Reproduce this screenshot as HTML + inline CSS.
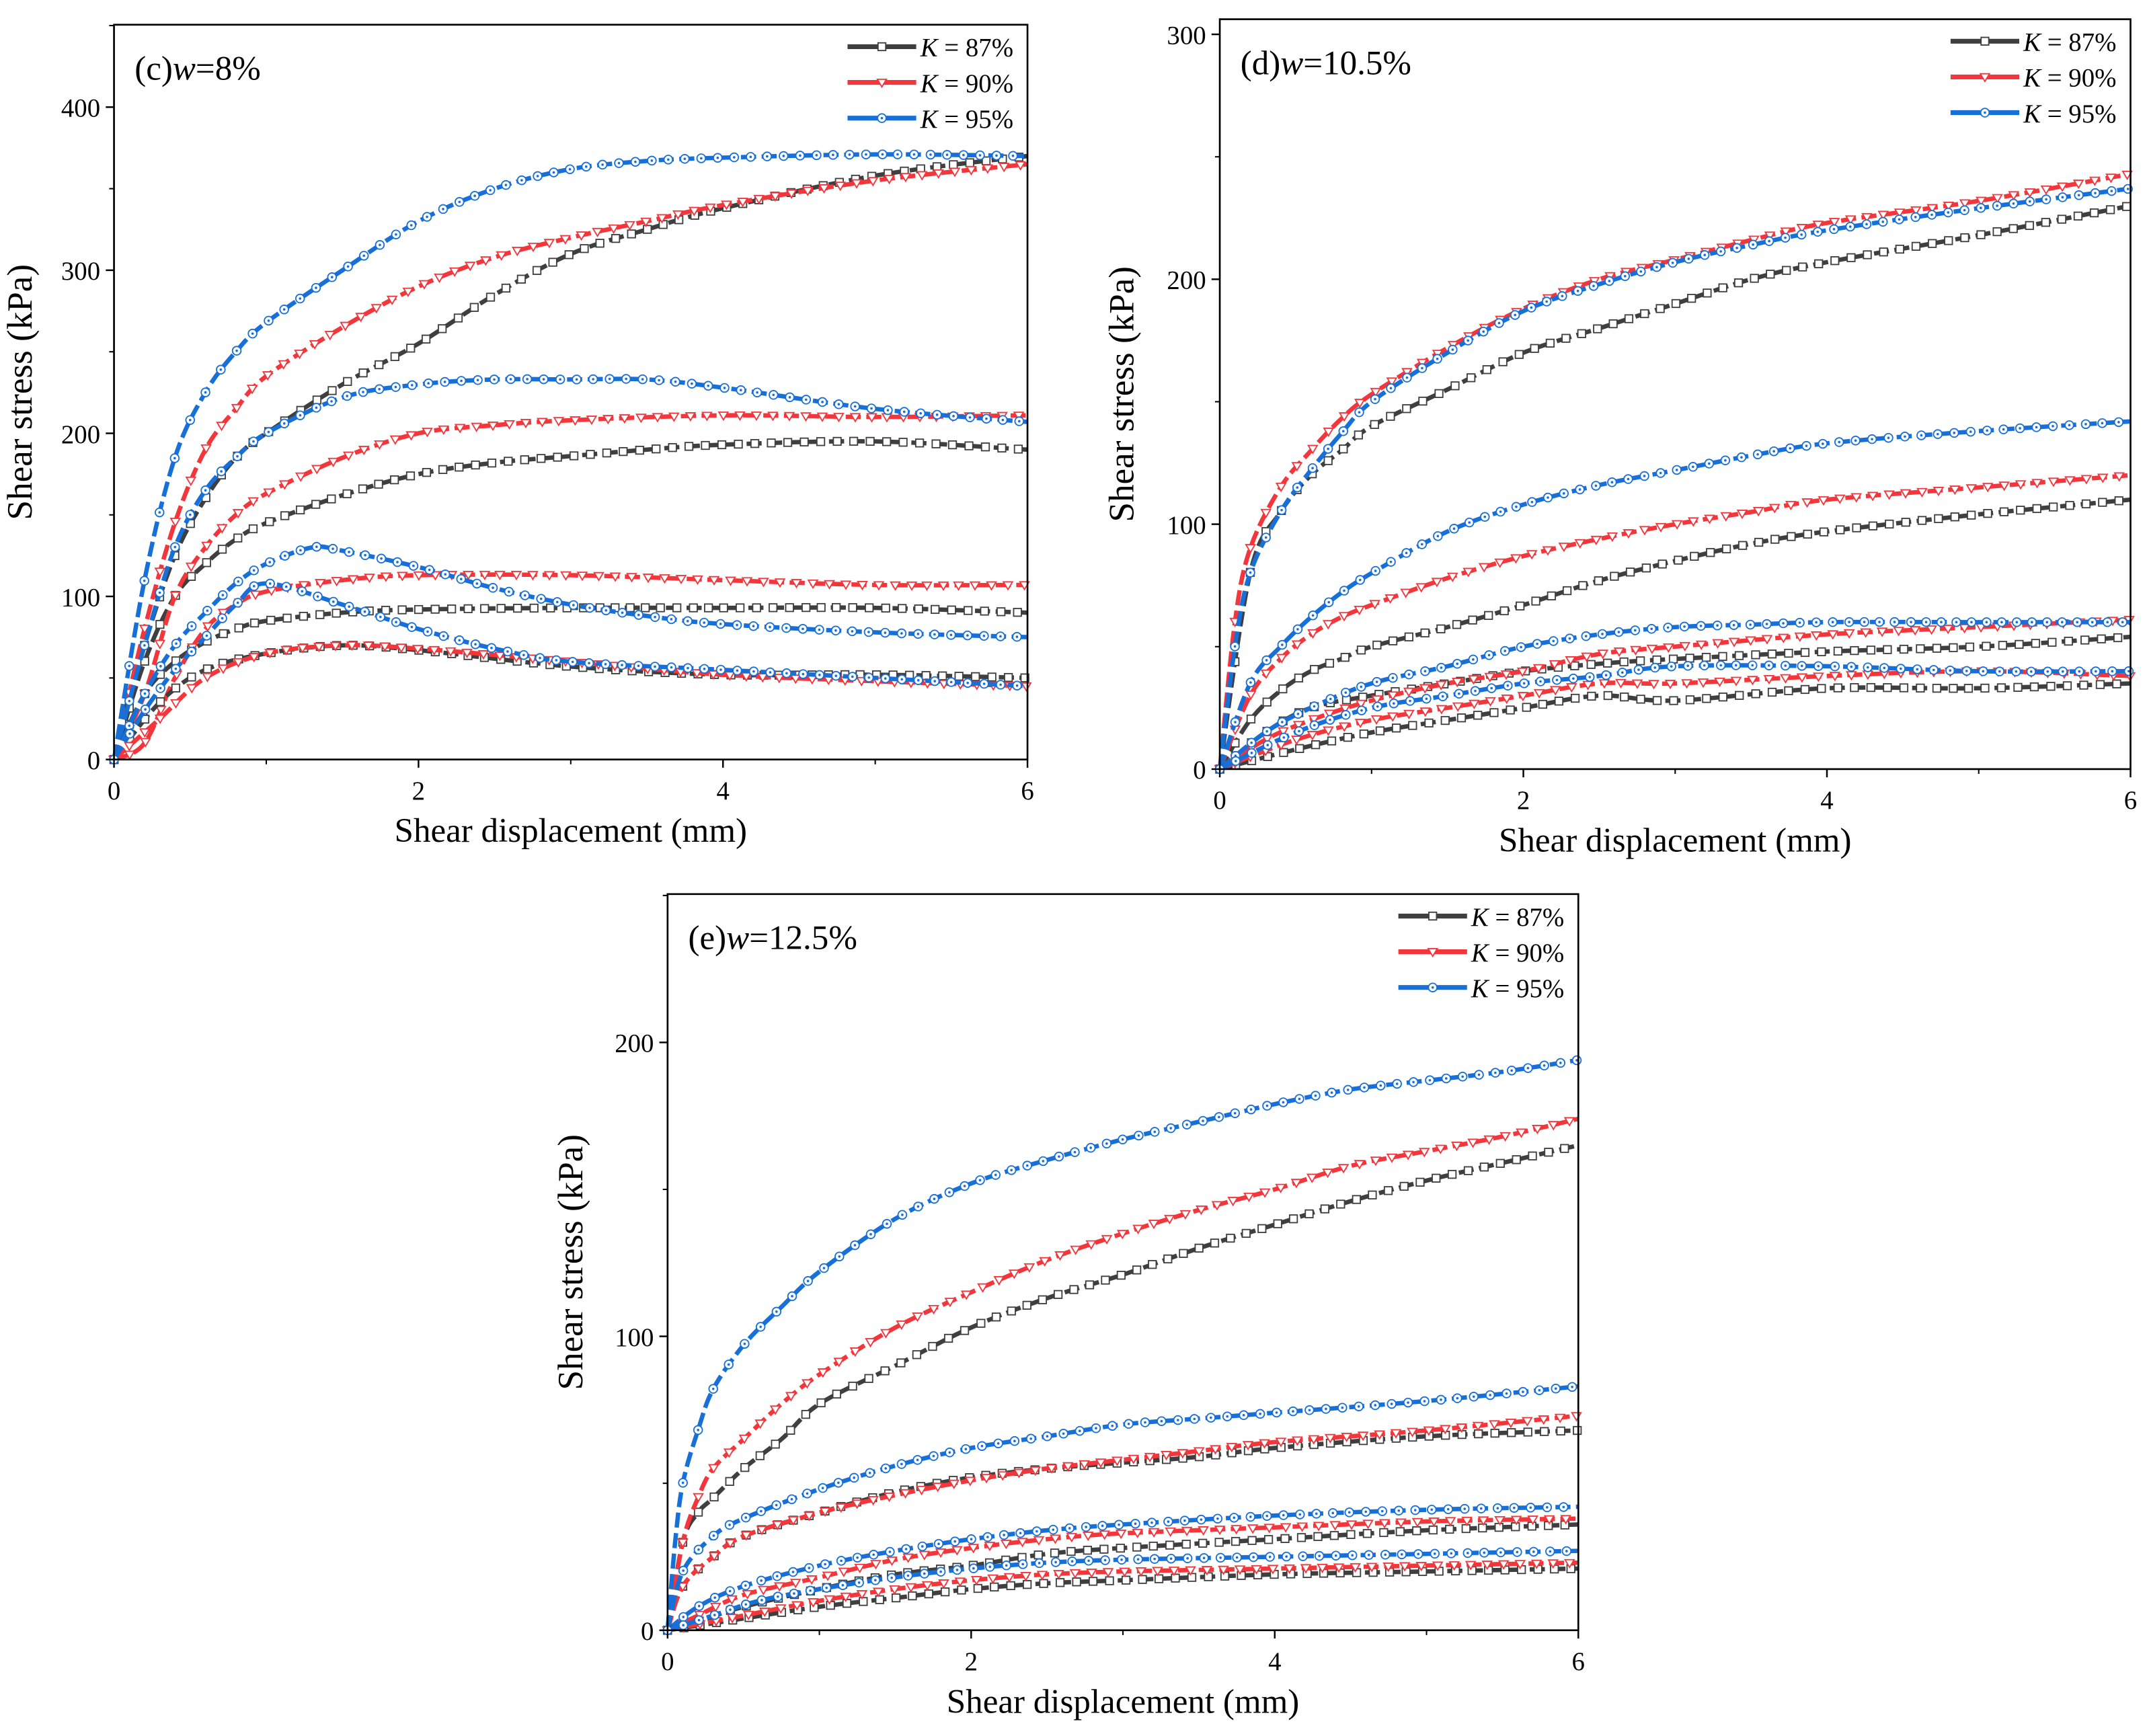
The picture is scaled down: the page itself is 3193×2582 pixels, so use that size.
<!DOCTYPE html>
<html><head><meta charset="utf-8"><style>
html,body{margin:0;padding:0;background:#fff}
svg{display:block}
text{font-family:"Liberation Serif",serif;fill:#000}
</style></head><body>
<svg id="s" width="3193" height="2582" viewBox="0 0 1563 1264" preserveAspectRatio="none"></svg>
<script>
// ---- data: [x-values, y-values] per curve ----
const cBlue1X=[0,0.2,0.4,0.6,0.8,1,1.5,2,2.5,3,3.5,4,5,6], cBlue1Y=[0,110,185,225,250,268,300,330,350,362,367,369,371,370];
const cRed1X=[0,0.2,0.4,0.6,0.8,1,1.5,2,2.5,3,3.5,4,5,6], cRed1Y=[0,80,145,190,215,235,265,290,308,320,330,340,355,365];
const cBlk1X=[0,0.2,0.4,0.6,0.8,1,1.5,2,2.5,3,3.5,4,5,6], cBlk1Y=[0,70,125,160,185,200,230,255,285,310,325,338,358,370];
const cBlue2X=[0,0.2,0.4,0.6,0.8,1,1.5,2,2.5,3,3.5,4,5,6], cBlue2Y=[0,70,130,165,185,200,222,230,233,233,233,228,215,207];
const cRed2X=[0,0.2,0.4,0.6,0.8,1,1.5,2,2.5,3,4,5,6], cRed2Y=[0,40,100,130,150,163,185,200,205,208,211,210,211];
const cBlk2X=[0,0.2,0.4,0.6,0.8,1,1.5,2,2.5,3,3.5,4,5,6], cBlk2Y=[0,60,100,120,135,145,162,175,182,186,190,193,195,190];
const cBlue3X=[0,0.2,0.4,0.6,0.8,1,1.3,1.5,2,2.5,3,3.5,4,5,6], cBlue3Y=[0,40,70,90,108,120,130,128,118,105,95,88,83,78,75];
const cRed3X=[0,0.2,0.4,0.6,0.8,1,1.5,2,3,4,5,6], cRed3Y=[0,10,50,80,95,103,110,113,113,110,107,107];
const cBlk3X=[0,0.2,0.4,0.6,0.8,1,1.5,2,3,4,5,6], cBlk3Y=[0,40,60,72,80,85,90,92,93,93,93,90];
const cBlue4X=[0,0.2,0.4,0.6,0.8,1,1.5,2,2.5,3,4,5,6], cBlue4Y=[0,30,55,75,95,108,95,80,68,60,55,50,45];
const cRed4X=[0,0.3,0.6,1,1.5,2,3,4,5,6], cRed4Y=[0,25,50,65,70,68,60,52,48,45];
const cBlk4X=[0,0.3,0.6,1,1.5,2,3,4,5,6], cBlk4Y=[0,35,55,65,70,67,57,52,52,50];

const dRed1X=[0,0.1,0.2,0.4,0.6,0.8,1,1.5,2,2.5,3,3.5,4,5,6], dRed1Y=[0,60,90,115,130,143,153,172,188,200,208,216,223,232,243];
const dBlue1X=[0,0.1,0.2,0.4,0.6,0.8,1,1.5,2,2.5,3,3.5,4,5,6], dBlue1Y=[0,50,80,105,122,137,150,170,187,198,207,214,220,229,237];
const dBlk1X=[0,0.2,0.4,0.6,0.8,1,1.5,2,2.5,3,3.5,4,5,6], dBlk1Y=[0,80,105,120,130,140,155,170,180,190,200,207,218,230];
const dBlue2X=[0,0.2,0.4,0.6,0.8,1,1.5,2,2.5,3,3.5,4,5,6], dBlue2Y=[0,35,50,62,72,80,97,108,116,122,128,133,138,142];
const dRed2X=[0,0.2,0.4,0.6,0.8,1,1.5,2,2.5,3,3.5,4,5,6], dRed2Y=[0,30,45,55,62,67,78,87,94,100,105,110,115,120];
const dBlk2X=[0,0.2,0.4,0.6,0.8,1,1.5,2,2.5,3,3.5,4,5,6], dBlk2Y=[0,20,32,40,45,50,58,67,77,85,92,97,104,110];
const dBlue3X=[0,0.3,0.6,1,1.5,2,2.5,3,3.5,4,5,6], dBlue3Y=[0,15,25,35,42,50,55,58,59,60,60,60];
const dRed3X=[0,0.3,0.6,1,1.5,2,2.5,3,4,5,6], dRed3Y=[0,12,20,28,35,40,47,50,55,58,61];
const dBlk3X=[0,0.3,0.6,1,1.5,2,2.5,3,4,5,6], dBlk3Y=[0,15,25,30,35,40,43,45,48,50,54];
const dBlue4X=[0,0.5,1,1.5,2,2.5,3,4,5,6], dBlue4Y=[0,15,25,30,35,38,42,42,40,40];
const dRed4X=[0,0.5,1,1.5,2,2.5,3,4,5,6], dRed4Y=[0,12,20,25,30,35,35,38,40,38];
const dBlk4X=[0,0.5,1,1.5,2,2.5,3,4,5,6], dBlk4Y=[0,8,15,20,25,30,28,33,33,35];

const eBlue1X=[0,0.05,0.1,0.2,0.3,0.5,0.75,1,1.5,2,2.5,3,3.5,4,4.5,5,5.5,6], eBlue1Y=[0,30,50,68,82,97,110,122,140,152,160,167,173,179,184,187,190,194];
const eRed1X=[0,0.1,0.2,0.3,0.5,0.75,1,1.5,2,2.5,3,3.5,4,4.5,5,5.5,6], eRed1Y=[0,30,45,55,65,77,87,103,115,126,135,143,150,158,163,168,174];
const eBlk1X=[0,0.1,0.2,0.3,0.5,0.75,1,1.5,2,2.5,3,3.5,4,4.5,5,5.5,6], eBlk1Y=[0,30,40,45,55,65,77,90,103,113,121,130,138,146,153,159,165];
const eBlue2X=[0,0.1,0.3,0.5,1,1.5,2,2.5,3,3.5,4,5,6], eBlue2Y=[0,20,32,38,48,56,62,66,70,72,74,78,83];
const eRed2X=[0,0.1,0.3,0.5,1,1.5,2,2.5,3,3.5,4,5,6], eRed2Y=[0,15,25,32,40,46,51,55,58,61,64,68,73];
const eBlk2X=[0,0.1,0.3,0.5,1,1.5,2,2.5,3,3.5,4,5,6], eBlk2Y=[0,15,25,32,40,47,52,55,57,59,62,66,68];
const eBlue3X=[0,0.2,0.5,1,1.5,2,2.5,3,4,5,6], eBlue3Y=[0,8,15,22,27,31,34,36,39,41,42];
const eRed3X=[0,0.2,0.5,1,1.5,2,2.5,3,4,5,6], eRed3Y=[0,5,12,18,24,28,31,33,35,37,38];
const eBlk3X=[0,0.2,0.5,1,1.5,2,2.5,3,4,5,6], eBlk3Y=[0,3,8,14,19,22,26,28,31,34,36];
const eBlue4X=[0,0.3,0.6,1,1.5,2,2.5,3,4,5,6], eBlue4Y=[0,5,10,14,18,21,23,24,25,26,27];
const eRed4X=[0,0.5,1,1.5,2,2.5,3,4,5,6], eRed4Y=[0,5,10,14,17,19,20,21,22,23];
const eBlk4X=[0,0.5,1,1.5,2,2.5,3,4,5,6], eBlk4Y=[0,4,8,11,14,16,17,19,20,21];

const xTicks=[0,2,4,6];
const cYTicks=[0,100,200,300,400], dYTicks=[0,100,200,300], eYTicks=[0,100,200];
const legendLabels=["K = 87%","K = 90%","K = 95%"];

const NS="http://www.w3.org/2000/svg";
const svg=document.getElementById('s');
const COL={k:"#3f3f3f",r:"#f2363b",b:"#176fd8"};
function mk(tag,attrs,parent){const e=document.createElementNS(NS,tag);for(const k in attrs)e.setAttribute(k,attrs[k]);(parent||svg).appendChild(e);return e;}
function marker(g,kind,x,y){
  const c=COL[kind];let m;
  if(kind==='k'){m=mk('rect',{x:x-2.8,y:y-2.8,width:5.6,height:5.6,fill:'#fff',stroke:c,'stroke-width':0.9},g);}
  else if(kind==='r'){m=mk('path',{d:`M${x-3.3},${y-2.3}L${x+3.3},${y-2.3}L${x},${y+3.3}Z`,fill:'#fff',stroke:c,'stroke-width':0.9},g);}
  else {m=mk('circle',{cx:x,cy:y,r:3.1,fill:'#fff',stroke:c,'stroke-width':0.9},g);mk('circle',{cx:x,cy:y,r:0.9,fill:c},g);}
  
  
}
function smoothPath(P){
  let d='M'+P[0][0].toFixed(1)+','+P[0][1].toFixed(1);
  for(let i=0;i<P.length-1;i++){
    const p0=P[Math.max(0,i-1)],p1=P[i],p2=P[i+1],p3=P[Math.min(P.length-1,i+2)];
    const c1=[p1[0]+(p2[0]-p0[0])/6,p1[1]+(p2[1]-p0[1])/6];
    const c2=[p2[0]-(p3[0]-p1[0])/6,p2[1]-(p3[1]-p1[1])/6];
    d+=`C${c1[0].toFixed(1)},${c1[1].toFixed(1)} ${c2[0].toFixed(1)},${c2[1].toFixed(1)} ${p2[0].toFixed(1)},${p2[1].toFixed(1)}`;
  }
  return d;
}
function panel(p){
  const g=mk('g',{});
  
  
  const sx=v=>p.x0+(v/6)*(p.x1-p.x0);
  const sy=v=>p.y0-(v/p.ymax)*(p.y0-p.yTop);
  p.series.forEach(s=>{
    const X=s[1],Y=s[2],k=s[0];
    const P=X.map((x,i)=>[sx(x),sy(Y[i])]);
    const l=mk('path',{d:smoothPath(P),fill:'none',stroke:COL[k],'stroke-width':3.2,'stroke-dasharray':'11,4','stroke-linejoin':'round'},g);
    
    
    // markers at regular steps of x along the curve (~0.1 mm)
    const L=l.getTotalLength();
    let lastX=-1e9;
    for(let t=0;t<=L;t+=1){
      const pt=l.getPointAtLength(t);
      const dist=Math.abs(pt.x-lastX);
      if(lastX<-1e8||pt.x-lastX>=11){marker(g,k,pt.x,pt.y);lastX=pt.x;}
    }
  });
  const f=mk('rect',{x:p.x0,y:p.yBox,width:p.x1-p.x0,height:p.y0-p.yBox,fill:'none',stroke:'#000','stroke-width':1.3},g);
  
  
  xTicks.forEach(t=>{
    mk('line',{x1:sx(t),x2:sx(t),y1:p.y0,y2:p.y0+6,stroke:'#000','stroke-width':1.2},g);
    const tx=mk('text',{x:sx(t),y:p.y0+29,'text-anchor':'middle','font-size':19},g);tx.textContent=t;
    
    
  });
  for(let t=1;t<6;t+=2){mk('line',{x1:sx(t),x2:sx(t),y1:p.y0,y2:p.y0+3.5,stroke:'#000','stroke-width':1},g);}
  p.yt.forEach(t=>{
    mk('line',{x1:p.x0-6,x2:p.x0,y1:sy(t),y2:sy(t),stroke:'#000','stroke-width':1.2},g);
    const tx=mk('text',{x:p.x0-10,y:sy(t)+7,'text-anchor':'end','font-size':19},g);tx.textContent=t;
    
    
    if(sy(t+50)>p.yBox) mk('line',{x1:p.x0-3.5,x2:p.x0,y1:sy(t+50),y2:sy(t+50),stroke:'#000','stroke-width':1},g);
  });
  const xt=mk('text',{x:(p.x0+p.x1)/2,y:p.y0+60,'text-anchor':'middle','font-size':25},g);xt.textContent='Shear displacement (mm)';
  
  
  const yc=(p.yBox+p.y0)/2;
  const yt=mk('text',{x:p.x0-p.ytOff,y:yc,'text-anchor':'middle','font-size':26,transform:`rotate(-90 ${p.x0-p.ytOff} ${yc})`},g);yt.textContent='Shear stress (kPa)';
  
  
  const ti=mk('text',{x:p.x0+15,y:p.yBox+40,'font-size':25},g);
  ti.innerHTML=p.title[0]+'<tspan font-style="italic">w</tspan>'+p.title[1];
  
  
  ['k','r','b'].forEach((k,i)=>{
    const ly=p.yBox+16+i*26, lx=p.x1-131;
    const lg=mk('g',{},g);
    
    
    mk('line',{x1:lx,x2:lx+50,y1:ly,y2:ly,stroke:COL[k],'stroke-width':3.5},lg);
    marker(lg,k,lx+25,ly);
    const t=mk('text',{x:lx+53,y:ly+7,'font-size':19},lg);
    t.innerHTML='<tspan font-style="italic">K</tspan>'+legendLabels[i].slice(1);
  });
}
panel({name:'panel-c',x0:83,x1:748,y0:553,yTop:78,ymax:400,yBox:18,yt:cYTicks,ytOff:60,title:['(c)','=8%'],
 series:[['k',cBlk1X,cBlk1Y],['r',cRed1X,cRed1Y],['b',cBlue1X,cBlue1Y],['k',cBlk2X,cBlk2Y],['r',cRed2X,cRed2Y],['b',cBlue2X,cBlue2Y],['k',cBlk3X,cBlk3Y],['r',cRed3X,cRed3Y],['b',cBlue3X,cBlue3Y],['k',cBlk4X,cBlk4Y],['r',cRed4X,cRed4Y],['b',cBlue4X,cBlue4Y]]});
panel({name:'panel-d',x0:888,x1:1551,y0:560,yTop:25,ymax:300,yBox:14,yt:dYTicks,ytOff:63,title:['(d)','=10.5%'],
 series:[['k',dBlk1X,dBlk1Y],['r',dRed1X,dRed1Y],['b',dBlue1X,dBlue1Y],['k',dBlk2X,dBlk2Y],['r',dRed2X,dRed2Y],['b',dBlue2X,dBlue2Y],['k',dBlk3X,dBlk3Y],['r',dRed3X,dRed3Y],['b',dBlue3X,dBlue3Y],['k',dBlk4X,dBlk4Y],['r',dRed4X,dRed4Y],['b',dBlue4X,dBlue4Y]]});
panel({name:'panel-e',x0:486,x1:1149,y0:1187,yTop:759,ymax:200,yBox:651,yt:eYTicks,ytOff:62,title:['(e)','=12.5%'],
 series:[['k',eBlk1X,eBlk1Y],['r',eRed1X,eRed1Y],['b',eBlue1X,eBlue1Y],['k',eBlk2X,eBlk2Y],['r',eRed2X,eRed2Y],['b',eBlue2X,eBlue2Y],['k',eBlk3X,eBlk3Y],['r',eRed3X,eRed3Y],['b',eBlue3X,eBlue3Y],['k',eBlk4X,eBlk4Y],['r',eRed4X,eRed4Y],['b',eBlue4X,eBlue4Y]]});
</script>
</body></html>
